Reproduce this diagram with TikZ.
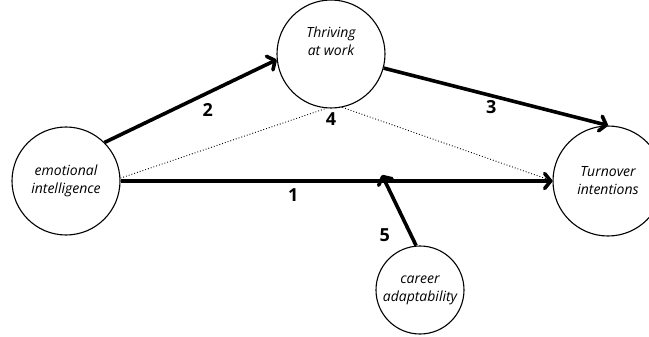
\documentclass[tikz,border=0pt]{standalone}
\usepackage{fontspec}
\setmainfont{Open Sans}
\usetikzlibrary{arrows.meta, positioning}

\begin{document}
\begin{tikzpicture}[x=1pt, y=-1pt,
		var/.style={circle, draw, line width=1.1pt, inner sep=0pt, align=center, font=\itshape\fontsize{14}{18}\selectfont},
		effect/.style={line width=3.6pt, -{Straight Barb[length=6pt,width=15pt,round]}},
		num/.style={font=\bfseries\fontsize{18}{18}\selectfont}]
		\useasboundingbox (0,0) rectangle (649,337);
		\node[var, minimum size=108pt] (ei) at (66,181) {emotional\\intelligence};
		\node[var, minimum size=108pt] (thrive) at (331,54) {};
		\node[font=\itshape\fontsize{14}{18}\selectfont, align=center] (thrivetxt) at (331,41) {Thriving\\at work};
		\node[var, minimum size=110pt] (turn) at (608,181) {Turnover\\intentions};
		\node[var, minimum size=88pt] (career) at (420,290) {career\\adaptability};
		\coordinate (m) at (382,175);
		
		\draw[effect] (ei) -- node[num, pos=0.4, below=3pt] (n1) {1} (turn);
		\draw[effect] (ei.45) -- node[num, pos=0.6, below=6pt] (n2) {2} (thrive.186);
		\draw[effect] (thrive.-15) -- node[num, pos=0.48, below=0pt] (n3) {3} (turn.90);
		\draw[dotted, line width=0.9pt] (ei.3) -- (thrive.-95);
		\draw[dotted, line width=0.9pt] (thrive.-78) -- (turn.180);
		\node[num, below=1pt of thrive.south] (n4) {4};
		\draw[effect] (career.95) -- node[num, pos=0.15, left=16pt] (n5) {5} (m);
	\end{tikzpicture}
\end{document}
